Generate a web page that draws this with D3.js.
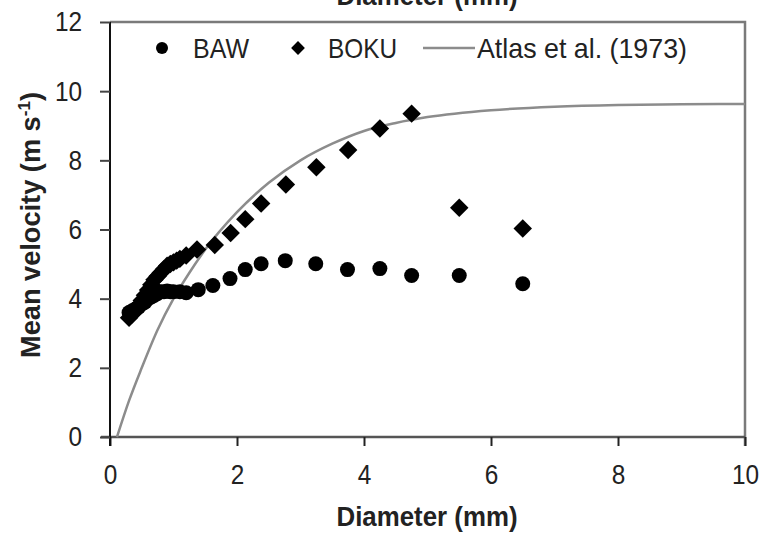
<!DOCTYPE html>
<html>
<head>
<meta charset="utf-8">
<script src="https://cdn.jsdelivr.net/npm/d3@7"></script>
<style>
  body { margin: 0; background: #fff; }
  svg { display: block; }
  text { font-family: "Liberation Sans", Arial, sans-serif; fill: #222; }
</style>
</head>
<body>
<div class="chart"></div>
<script>
// Width and height
const w = 760;
const h = 534;

// data
const bawDiameter = [0.3, 0.35, 0.4, 0.45, 0.5, 0.55, 0.6, 0.65, 0.7, 0.75, 0.8, 0.85, 0.9, 0.95, 1.0, 1.1,
  1.2, 1.39, 1.62, 1.89, 2.13, 2.38, 2.76, 3.24, 3.74, 4.25, 4.75, 5.5, 6.5];
const bawVelocity = [3.6, 3.65, 3.7, 3.75, 3.85, 3.9, 4.0, 4.05, 4.1, 4.15, 4.2, 4.2, 4.22, 4.2, 4.2, 4.2,
  4.17, 4.26, 4.38, 4.58, 4.84, 5.01, 5.1, 5.01, 4.84, 4.87, 4.67, 4.67, 4.43];

const bokuDiameter = [0.3, 0.35, 0.4, 0.45, 0.5, 0.55, 0.6, 0.65, 0.7, 0.75, 0.8, 0.85, 0.9, 0.95, 1.0, 1.05, 1.1,
  1.2, 1.37, 1.65, 1.9, 2.13, 2.38, 2.77, 3.25, 3.75, 4.25, 4.75, 5.5, 6.5];
const bokuVelocity = [3.45, 3.55, 3.65, 3.8, 3.95, 4.1, 4.25, 4.4, 4.55, 4.65, 4.75, 4.85, 4.95, 5.0, 5.05, 5.1, 5.15,
  5.25, 5.42, 5.55, 5.9, 6.3, 6.75, 7.3, 7.8, 8.3, 8.92, 9.35, 6.63, 6.03];

// Atlas et al. (1973) curve
const atlasDiameter = [0.11, 0.3, 0.5, 0.75, 1.0, 1.25, 1.5, 2.0, 2.5, 3.0, 3.5, 4.0, 4.5, 5.0, 6.0, 7.0, 8.0, 9.0, 10.0];
const atlasVelocity = [0, 1.05, 2.0, 3.1, 4.0, 4.75, 5.42, 6.5, 7.35, 8.0, 8.48, 8.85, 9.08, 9.25, 9.45, 9.55, 9.6, 9.62, 9.63];

const xTicks = [0, 2, 4, 6, 8, 10];
const yTicks = [0, 2, 4, 6, 8, 10, 12];

const legendItems = [
  { label: "BAW", kind: "circle", x: 162, textX: 193, len: 56 },
  { label: "BOKU", kind: "diamond", x: 298, textX: 328, len: 69 },
  { label: "Atlas et al. (1973)", kind: "line", x: 423, textX: 477, len: 210 },
];

// plot area
const plotLeft = 110, plotRight = 745, plotTop = 22, plotBottom = 437;

const x = d3.scaleLinear().domain([0, 10]).range([plotLeft, plotRight]);
const y = d3.scaleLinear().domain([0, 12]).range([plotBottom, plotTop]);

const svg = d3.select(".chart").append("svg").attr("width", w).attr("height", h);

// frame (top and right in grey)
svg.append("path")
  .attr("d", `M${plotLeft},${plotTop}H${plotRight}V${plotBottom + 9}`)
  .attr("fill", "none")
  .attr("stroke", "#7a7a7a")
  .attr("stroke-width", 2.5);

// x axis
const xAxis = svg.append("g")
  .attr("transform", `translate(0,${plotBottom})`)
  .call(d3.axisBottom(x).tickValues(xTicks).tickSize(9).tickPadding(18).tickSizeOuter(0));
xAxis.select(".domain").attr("stroke", "#555").attr("stroke-width", 2.5)
  .attr("d", `M${plotLeft - 9},0H${plotRight}`);
xAxis.selectAll(".tick line").attr("stroke", "#222").attr("stroke-width", 2);
xAxis.selectAll("text")
  .style("font-size", "28px")
  .attr("fill", "#333")
  .attr("transform", "scale(0.87,1)");

// y axis
const yAxis = svg.append("g")
  .attr("transform", `translate(${plotLeft},0)`)
  .call(d3.axisLeft(y).tickValues(yTicks).tickSize(10).tickPadding(22).tickSizeOuter(0));
yAxis.select(".domain").attr("stroke", "#111").attr("stroke-width", 2)
  .attr("d", `M0,${plotTop}V${plotBottom + 9}`);
yAxis.selectAll(".tick line").attr("stroke", "#444").attr("stroke-width", 2);
yAxis.selectAll("text")
  .style("font-size", "28px")
  .attr("fill", "#333")
  .attr("x", -32)
  .attr("transform", "scale(0.87,1)");

// axis titles
svg.append("text")
  .attr("x", 427).attr("y", 526)
  .attr("text-anchor", "middle")
  .attr("textLength", 181).attr("lengthAdjust", "spacingAndGlyphs")
  .style("font-size", "28px").style("font-weight", "bold")
  .text("Diameter (mm)");

// title cut off at top of the picture
svg.append("text")
  .attr("x", 427).attr("y", 5)
  .attr("text-anchor", "middle")
  .attr("textLength", 181).attr("lengthAdjust", "spacingAndGlyphs")
  .style("font-size", "28px").style("font-weight", "bold")
  .text("Diameter (mm)");

const yLab = svg.append("text")
  .attr("transform", "translate(40,225) rotate(-90)")
  .attr("text-anchor", "middle")
  .attr("textLength", 266).attr("lengthAdjust", "spacingAndGlyphs")
  .style("font-size", "27px").style("font-weight", "bold");
yLab.append("tspan").text("Mean velocity (m s");
yLab.append("tspan").attr("dy", -10).style("font-size", "17px").text("-1");
yLab.append("tspan").attr("dy", 10).text(")");

// Atlas curve
const atlas = atlasDiameter.map((d, i) => [d, atlasVelocity[i]]);
const line = d3.line().x((d) => x(d[0])).y((d) => y(d[1])).curve(d3.curveMonotoneX);
svg.append("path")
  .datum(atlas)
  .attr("d", line)
  .attr("fill", "none")
  .attr("stroke", "#8c8c8c")
  .attr("stroke-width", 2.5);

// BAW circles
const baw = bawDiameter.map((d, i) => [d, bawVelocity[i]]);
svg.append("g")
  .selectAll("circle")
  .data(baw)
  .enter()
  .append("circle")
  .attr("cx", (d) => x(d[0]))
  .attr("cy", (d) => y(d[1]))
  .attr("r", 7.5)
  .attr("fill", "#000");

// BOKU diamonds
const boku = bokuDiameter.map((d, i) => [d, bokuVelocity[i]]);
const diamond = d3.symbol().type(d3.symbolSquare).size(170);
svg.append("g")
  .selectAll("path")
  .data(boku)
  .enter()
  .append("path")
  .attr("d", diamond)
  .attr("transform", (d) => `translate(${x(d[0])},${y(d[1])}) rotate(45)`)
  .attr("fill", "#000");

// legend
const legend = svg.append("g").attr("class", "legend");
legendItems.forEach((item) => {
  if (item.kind === "circle") {
    legend.append("circle").attr("cx", item.x).attr("cy", 48).attr("r", 6).attr("fill", "#000");
  } else if (item.kind === "diamond") {
    legend.append("path").attr("d", d3.symbol().type(d3.symbolSquare).size(95))
      .attr("transform", `translate(${item.x},48) rotate(45)`).attr("fill", "#000");
  } else {
    legend.append("line").attr("x1", item.x).attr("x2", item.x + 52).attr("y1", 48).attr("y2", 48)
      .attr("stroke", "#8c8c8c").attr("stroke-width", 2.5);
  }
  legend.append("text")
    .attr("x", item.textX).attr("y", 58)
    .attr("textLength", item.len).attr("lengthAdjust", "spacingAndGlyphs")
    .style("font-size", "28px").attr("fill", "#333")
    .text(item.label);
});
</script>
</body>
</html>
